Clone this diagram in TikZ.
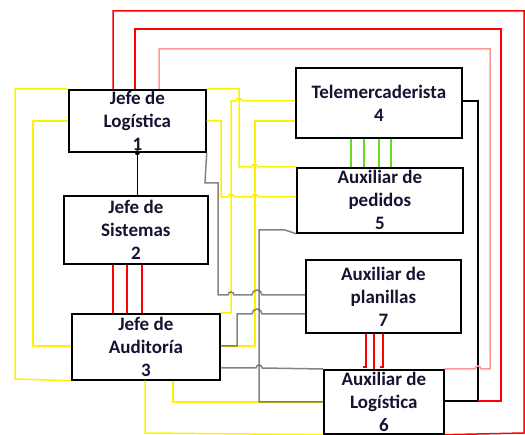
\documentclass[tikz,border=0pt]{standalone}
\usepackage{fontspec}
\setmainfont{Carlito}
\definecolor{tinta}{RGB}{20,20,50}
\definecolor{gristrazo}{RGB}{90,90,90}
\definecolor{rosa}{RGB}{255,150,150}
\definecolor{verdeclaro}{RGB}{102,221,34}
\newcommand{\salto}[3]{-- ({#1-#3},#2) arc[start angle=180,end angle=0,radius=#3]}
\begin{document}
\begin{tikzpicture}[x=1pt,y=1pt,
  caja/.style 2 args={draw=black,line width=1.7pt,minimum width=#1,minimum height=#2,inner sep=0pt,anchor=north west},
  texto/.style={font=\bfseries\fontsize{19}{23}\selectfont,align=center,text=tinta,inner sep=0pt},
  amarillo/.style={draw=yellow,line width=1.5pt},
  gris/.style={draw=gristrazo,line width=1.5pt,opacity=.75},
  rojo/.style={draw=red,line width=1.5pt},
  rosado/.style={draw=rosa,line width=1.5pt},
  verde/.style={draw=verdeclaro,line width=1.4pt},
  negro/.style={draw=black,line width=1.5pt}]
\useasboundingbox (0,0) rectangle (525,-435);
\node[caja={137}{62}] (b1) at (68,-89) {};
\node[caja={144}{68}] (b2) at (63,-195) {};
\node[caja={148}{66}] (b3) at (71,-313) {};
\node[caja={166}{70}] (b4) at (295,-67) {};
\node[caja={166}{65}] (b5) at (296,-167) {};
\node[caja={155}{73}] (b7) at (305,-259) {};
\node[caja={120}{64}] (b6) at (323,-369) {};
\foreach \n/\t in {b1/{Jefe de\\Logística\\1},b2/{Jefe de\\Sistemas\\2},b3/{Jefe de\\Auditoría\\3},
  b4/{Telemercaderista\\4},b5/{Auxiliar de\\pedidos\\5},b7/{Auxiliar de\\planillas\\7},b6/{Auxiliar de\\Logística\\6}}
  \node[texto] (t\n) at (\n) {\t};
% entre cajas
\draw[negro] (b1.south) -- (b1.south |- b2.north);
\fill (b1.south) circle (2.5);
\foreach \x in {113,127,142} \draw[rojo] (b2.south -| \x,0) -- (b3.north -| \x,0);
\foreach \x in {351,364,379,391} \draw[verde] (b4.south -| \x,0) -- (b5.north -| \x,0);
\draw[rojo] (b7.south -| 366,0) -- (366,-367) -- (363,-367);
\draw[rojo] (b7.south -| 374,0) -- (b6.north -| 374,0);
\draw[rojo] (b7.south -| 383,0) -- (383,-367) -- (380,-367);
% amarillos
\draw[amarillo] (b1.north west) -- (15,-89) -- (15,-379) -- (b3.south west);
\draw[amarillo] (b1.west |- 0,-121) -- (33,-121) -- (33,-346) -- (b3.west |- 0,-346);
\draw[amarillo] (b1.north east) -- (239,-89) -- (239,-167) \salto{255}{-167}{3} -- (b5.north west);
\draw[amarillo] (b1.east |- 0,-121) -- (221,-121) -- (221,-197) \salto{231}{-197}{3} \salto{255}{-197}{3} -- (b5.west |- 0,-197);
\draw[amarillo] (b3.north east) -- (231,-313) -- (231,-101) \salto{239}{-101}{3} -- (b4.west |- 0,-101);
\draw[amarillo] (b3.east |- 0,-346) -- (255,-346) -- (255,-121) -- (b4.west |- 0,-121);
\draw[amarillo] (b3.south -| 173,0) -- (173,-402) -- (b6.west |- 0,-402);
\draw[amarillo] (b3.south -| 145,0) -- (145,-433) -- (b6.south west);
% grises
\draw[gris] (b1.south east) -- (205,-183) -- (218,-183) -- (218,-295) \salto{231}{-295}{3} \salto{257}{-295}{5} -- (b7.west |- 0,-295);
\draw[gris] (b3.east |- 0,-346) -- (237,-346) -- (237,-314) \salto{257}{-314}{5} -- (b7.west |- 0,-314);
\draw[gris] (b5.south west) -- (285,-230) -- (259,-230) -- (259,-402) -- (b6.west |- 0,-402);
\draw[gris] (b3.east |- 0,-368) \salto{259}{-368}{3} -- (b6.north west);
% derecha
\draw[negro] (b4.east |- 0,-101) -- (478,-101) -- (478,-401) -- (b6.east |- 0,-401);
\draw[rojo] (b1.north -| 113,0) -- (113,-11) -- (524,-11) -- (524,-433) -- (b6.south east);
\draw[rojo] (b1.north -| 135,0) -- (135,-29) -- (501,-29) -- (501,-401) -- (478,-401);
\draw[rosado] (b6.north east) \salto{478}{-369}{3} -- (490,-369) -- (490,-49) -- (159,-49) -- (b1.north -| 159,0);
\end{tikzpicture}
\end{document}
